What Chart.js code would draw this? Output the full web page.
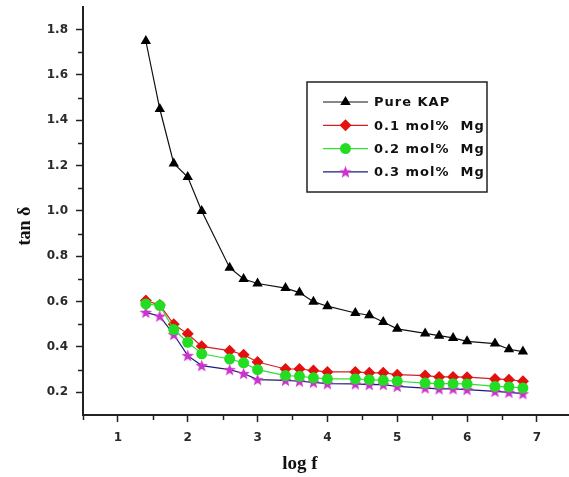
<!DOCTYPE html>
<html>
<head>
<meta charset="utf-8">
<script src="https://cdn.jsdelivr.net/npm/chart.js@4/dist/chart.umd.min.js"></script>
<style>
  html, body { margin: 0; padding: 0; background: #fff; }
  canvas { display: block; }
</style>
</head>
<body>
<canvas id="myChart" width="569" height="477"></canvas>
<script>
// log f values shared by all four samples
const logF = [1.4, 1.6, 1.8, 2.0, 2.2, 2.6, 2.8, 3.0, 3.4, 3.6, 3.8, 4.0, 4.4, 4.6, 4.8, 5.0, 5.4, 5.6, 5.8, 6.0, 6.4, 6.6, 6.8];

// tan delta for each sample
const pureKAP = [1.75, 1.45, 1.21, 1.15, 1.00, 0.75, 0.70, 0.68, 0.66, 0.64, 0.60, 0.58, 0.55, 0.54, 0.51, 0.48, 0.46, 0.45, 0.44, 0.425, 0.415, 0.39, 0.38];
const mg01 = [0.605, 0.585, 0.50, 0.458, 0.403, 0.384, 0.366, 0.334, 0.303, 0.303, 0.296, 0.29, 0.29, 0.286, 0.286, 0.278, 0.274, 0.268, 0.268, 0.267, 0.259, 0.256, 0.249];
const mg02 = [0.59, 0.583, 0.477, 0.421, 0.37, 0.347, 0.33, 0.30, 0.274, 0.271, 0.264, 0.259, 0.259, 0.256, 0.253, 0.249, 0.241, 0.238, 0.238, 0.237, 0.226, 0.224, 0.219];
const mg03 = [0.553, 0.536, 0.455, 0.362, 0.318, 0.30, 0.283, 0.256, 0.253, 0.249, 0.244, 0.238, 0.237, 0.234, 0.234, 0.226, 0.219, 0.215, 0.215, 0.212, 0.204, 0.20, 0.194];

const seriesLabels = ['Pure KAP', '0.1 mol%  Mg', '0.2 mol%  Mg', '0.3 mol%  Mg'];

// axis ticks
const xTicks = [1, 2, 3, 4, 5, 6, 7];
const yTicks = [0.2, 0.4, 0.6, 0.8, 1.0, 1.2, 1.4, 1.6, 1.8];
const xMinorTicks = [0.5, 1.5, 2.5, 3.5, 4.5, 5.5, 6.5];
const yMinorTicks = [0.3, 0.5, 0.7, 0.9, 1.1, 1.3, 1.5, 1.7];

function points(ys) {
    return logF.map((x, i) => ({ x: x, y: ys[i] }));
}

// filled five point star used as marker
function makeStar(size, color) {
    const c = document.createElement('canvas');
    c.width = size;
    c.height = size;
    const ctx = c.getContext('2d');
    const cx = size / 2, cy = size / 2 + 0.5;
    const outer = size / 2, inner = outer * 0.42;
    ctx.beginPath();
    for (let i = 0; i < 10; i++) {
        const r = i % 2 === 0 ? outer : inner;
        const a = -Math.PI / 2 + i * Math.PI / 5;
        const px = cx + r * Math.cos(a), py = cy + r * Math.sin(a);
        if (i === 0) ctx.moveTo(px, py); else ctx.lineTo(px, py);
    }
    ctx.closePath();
    ctx.fillStyle = color;
    ctx.fill();
    return c;
}

const star = makeStar(13, '#cc33cc');

const data = {
    datasets: [{
        label: seriesLabels[0],
        data: points(pureKAP),
        borderColor: '#111',
        borderWidth: 1.2,
        pointStyle: 'triangle',
        pointRadius: 6,
        pointBackgroundColor: '#000',
        pointBorderColor: '#000',
        pointBorderWidth: 0,
        order: 0
    }, {
        label: seriesLabels[1],
        data: points(mg01),
        borderColor: '#d42020',
        borderWidth: 1.2,
        pointStyle: 'rectRot',
        pointRadius: 6,
        pointBackgroundColor: '#e41010',
        pointBorderColor: '#e41010',
        pointBorderWidth: 0,
        order: 2
    }, {
        label: seriesLabels[2],
        data: points(mg02),
        borderColor: '#33dd33',
        borderWidth: 1.2,
        pointStyle: 'circle',
        pointRadius: 5.5,
        pointBackgroundColor: '#22dd22',
        pointBorderColor: '#22dd22',
        pointBorderWidth: 0,
        order: 1
    }, {
        label: seriesLabels[3],
        data: points(mg03),
        borderColor: '#1c1c78',
        borderWidth: 1.2,
        pointStyle: star,
        pointRadius: 6,
        pointBackgroundColor: '#cc33cc',
        pointBorderColor: '#cc33cc',
        order: 3
    }]
};

// boxed legend, minor ticks and axis titles
const extras = {
    id: 'extras',
    afterDraw(chart) {
        const ctx = chart.ctx;
        const xs = chart.scales.x, ys = chart.scales.y;
        const area = chart.chartArea;

        ctx.save();
        ctx.strokeStyle = '#222';
        ctx.lineWidth = 1.5;
        xMinorTicks.forEach(v => {
            const px = Math.round(xs.getPixelForValue(v)) + 0.5;
            ctx.beginPath();
            ctx.moveTo(px, area.bottom);
            ctx.lineTo(px, area.bottom + 5);
            ctx.stroke();
        });
        yMinorTicks.forEach(v => {
            const py = Math.round(ys.getPixelForValue(v)) + 0.5;
            ctx.beginPath();
            ctx.moveTo(area.left, py);
            ctx.lineTo(area.left - 5, py);
            ctx.stroke();
        });

        // legend box
        const bx = 307, by = 82, bw = 180, bh = 110;
        ctx.fillStyle = '#fff';
        ctx.fillRect(bx, by, bw, bh);
        ctx.lineWidth = 1.5;
        ctx.strokeStyle = '#222';
        ctx.strokeRect(bx, by, bw, bh);

        chart.data.datasets.forEach((ds, i) => {
            const rowY = 102 + i * 23.3;
            ctx.strokeStyle = ds.borderColor;
            ctx.lineWidth = 1.2;
            ctx.beginPath();
            ctx.moveTo(323, rowY);
            ctx.lineTo(368, rowY);
            ctx.stroke();
            ctx.fillStyle = ds.pointBackgroundColor;
            ctx.strokeStyle = ds.pointBorderColor;
            Chart.helpers.drawPoint(ctx, {
                pointStyle: ds.pointStyle,
                radius: ds.pointRadius,
                rotation: 0,
                borderWidth: 0
            }, 345.5, rowY);

            ctx.fillStyle = '#111';
            ctx.font = 'bold 13px "DejaVu Sans"';
            ctx.letterSpacing = '1px';
            ctx.textAlign = 'left';
            ctx.textBaseline = 'middle';
            ctx.fillText(ds.label, 374, rowY + 1);
            ctx.letterSpacing = '0px';
        });

        // axis titles
        ctx.fillStyle = '#111';
        ctx.font = 'bold 19px "Liberation Serif"';
        ctx.textAlign = 'center';
        ctx.textBaseline = 'middle';
        ctx.fillText('log f', 300, 464);

        ctx.translate(25, 226);
        ctx.rotate(-Math.PI / 2);
        ctx.font = 'bold 18px "Liberation Serif"';
        ctx.fillText('tan δ', 0, 0);
        ctx.restore();
    }
};

const tickFont = { family: 'DejaVu Sans', weight: 'bold', size: 12 };

const config = {
    type: 'line',
    data: data,
    options: {
        responsive: false,
        animation: false,
        devicePixelRatio: 1,
        layout: {
            autoPadding: false,
            padding: { top: 7, right: 0, bottom: 0, left: 0 }
        },
        plugins: {
            legend: { display: false },
            tooltip: { enabled: false }
        },
        scales: {
            x: {
                type: 'linear',
                min: 0.5,
                max: 7.46,
                afterBuildTicks: axis => { axis.ticks = xTicks.map(v => ({ value: v })); },
                afterFit: axis => {
                    axis.height = 62;
                    axis.paddingLeft = 0;
                    axis.paddingRight = 0;
                },
                ticks: {
                    font: tickFont,
                    color: '#2a2a2a',
                    padding: 9,
                    maxRotation: 0,
                    callback: v => v.toFixed(0)
                },
                grid: {
                    drawOnChartArea: false,
                    drawTicks: true,
                    tickLength: 7,
                    tickColor: '#222',
                    tickWidth: 1.5
                },
                border: { display: true, color: '#222', width: 2 }
            },
            y: {
                min: 0.1,
                max: 1.9,
                afterBuildTicks: axis => { axis.ticks = yTicks.map(v => ({ value: v })); },
                afterFit: axis => {
                    axis.width = 83;
                    axis.paddingTop = 0;
                    axis.paddingBottom = 0;
                },
                ticks: {
                    font: tickFont,
                    color: '#2a2a2a',
                    padding: 8,
                    callback: v => v.toFixed(1)
                },
                grid: {
                    drawOnChartArea: false,
                    drawTicks: true,
                    tickLength: 7,
                    tickColor: '#222',
                    tickWidth: 1.5
                },
                border: { display: true, color: '#222', width: 2 }
            }
        }
    },
    plugins: [extras]
};

const myChart = new Chart(document.getElementById('myChart'), config);
</script>
</body>
</html>
